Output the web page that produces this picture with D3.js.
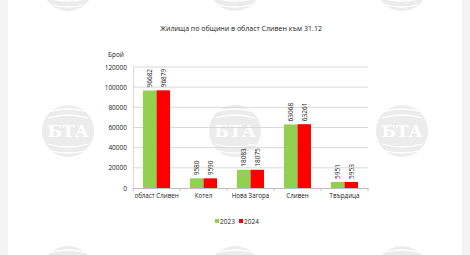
<script src="https://d3js.org/d3.v7.min.js"></script>
<style>
  body { margin: 0; background: #fff; }
  svg text { font-family: "Open Sans", "DejaVu Sans", sans-serif; fill: #222; }
</style>
<body>
<script>
  var categories = ["област Сливен", "Котел", "Нова Загора", "Сливен", "Твърдица"];
  var years = ["2023", "2024"];
  var values2023 = [96682, 9580, 18083, 63068, 5951];
  var values2024 = [96879, 9590, 18075, 63261, 5953];
  var yTicks = [0, 20000, 40000, 60000, 80000, 100000, 120000];
  var colors = ["#92d050", "#ff0000"];

  var width = 470, height = 255;
  var svg = d3.select("body").append("svg")
    .attr("width", width).attr("height", height);

  // side strips
  svg.append("rect").attr("x", 0).attr("y", 0).attr("width", 8).attr("height", height).attr("fill", "#f3f3f3");
  svg.append("rect").attr("x", 462).attr("y", 0).attr("width", 8).attr("height", height).attr("fill", "#f3f3f3");

  // watermark logos
  var marks = [];
  [68, 235, 402].forEach(function(cx) {
    [-15, 131, 272].forEach(function(cy) { marks.push([cx, cy]); });
  });
  var wm = svg.append("g").selectAll("g").data(marks).enter().append("g")
    .attr("transform", function(d) { return "translate(" + d[0] + "," + d[1] + ")"; });
  wm.append("ellipse").attr("rx", 26).attr("ry", 26).attr("fill", "#ececec");
  [-19, -13, 13, 19].forEach(function(dy) {
    wm.append("path")
      .attr("d", "M-20," + dy + " Q0," + (dy + (dy < 0 ? -6 : 6)) + " 20," + dy)
      .attr("fill", "none").attr("stroke", "#fff").attr("stroke-width", 1.3);
  });
  wm.filter(function(d) { return d[1] > 0 && d[1] < height; })
    .append("text").attr("y", 6).attr("text-anchor", "middle")
    .style("font-family", "DejaVu Serif").style("font-weight", "bold")
    .style("font-size", "17px").style("fill", "#fff").text("БТА");

  var x = d3.scaleBand().domain(categories).range([133, 368]);
  var xs = d3.scaleBand().domain(years).range([0, 27]);
  var y = d3.scaleLinear().domain([0, 120000]).range([188, 67]);

  // gridlines
  svg.append("g").selectAll("line").data(yTicks.slice(1)).enter().append("line")
    .attr("x1", 133).attr("x2", 368)
    .attr("y1", function(d) { return y(d); }).attr("y2", function(d) { return y(d); })
    .attr("stroke", "#d9d9d9").attr("stroke-width", 1);

  // y axis
  var yAxis = svg.append("g").attr("transform", "translate(133,0)")
    .call(d3.axisLeft(y).tickValues(yTicks).tickSize(0).tickPadding(6).tickFormat(d3.format("d")));
  yAxis.select(".domain").attr("stroke", "#d9d9d9");
  yAxis.selectAll("text").style("font-size", "6.5px").style("fill", "#222");

  var series = [values2023, values2024];
  var groups = svg.append("g").selectAll("g").data(categories).enter().append("g")
    .attr("transform", function(d) { return "translate(" + (x(d) + (x.bandwidth() - 27) / 2) + ",0)"; });

  years.forEach(function(yr, k) {
    groups.append("rect")
      .attr("x", xs(yr))
      .attr("width", xs.bandwidth())
      .attr("y", function(d, i) { return y(series[k][i]); })
      .attr("height", function(d, i) { return 188 - y(series[k][i]); })
      .attr("fill", colors[k]);
    groups.append("text")
      .attr("transform", function(d, i) {
        return "translate(" + (xs(yr) + xs.bandwidth() / 2 + 2.3) + "," + (y(series[k][i]) - 3) + ") rotate(-90)";
      })
      .style("font-size", "6.5px")
      .text(function(d, i) { return series[k][i]; });
  });

  // x axis
  var xAxis = svg.append("g").attr("transform", "translate(0,188)")
    .call(d3.axisBottom(x).tickSize(0).tickPadding(6));
  xAxis.select(".domain").attr("stroke", "#bfbfbf");
  xAxis.selectAll("text").style("font-size", "6.2px").style("fill", "#222");
  svg.append("g").selectAll("line").data(d3.range(6)).enter().append("line")
    .attr("x1", function(d) { return 133 + d * x.step(); })
    .attr("x2", function(d) { return 133 + d * x.step(); })
    .attr("y1", 188).attr("y2", 191).attr("stroke", "#bfbfbf");

  svg.append("text").attr("x", 241).attr("y", 31).attr("text-anchor", "middle")
    .style("font-size", "7px").text("Жилища по общини в област Сливен към 31.12");
  svg.append("text").attr("x", 108).attr("y", 57)
    .style("font-size", "6.5px").text("Брой");

  // legend
  var leg = svg.append("g").selectAll("g").data(years).enter().append("g")
    .attr("transform", function(d, i) { return "translate(" + (215 + i * 24) + ",223)"; });
  leg.append("rect").attr("x", 0).attr("y", -4).attr("width", 4).attr("height", 4)
    .attr("fill", function(d, i) { return colors[i]; });
  leg.append("text").attr("x", 5).attr("y", 0.5).style("font-size", "6.5px").text(function(d) { return d; });
</script>
</body>
